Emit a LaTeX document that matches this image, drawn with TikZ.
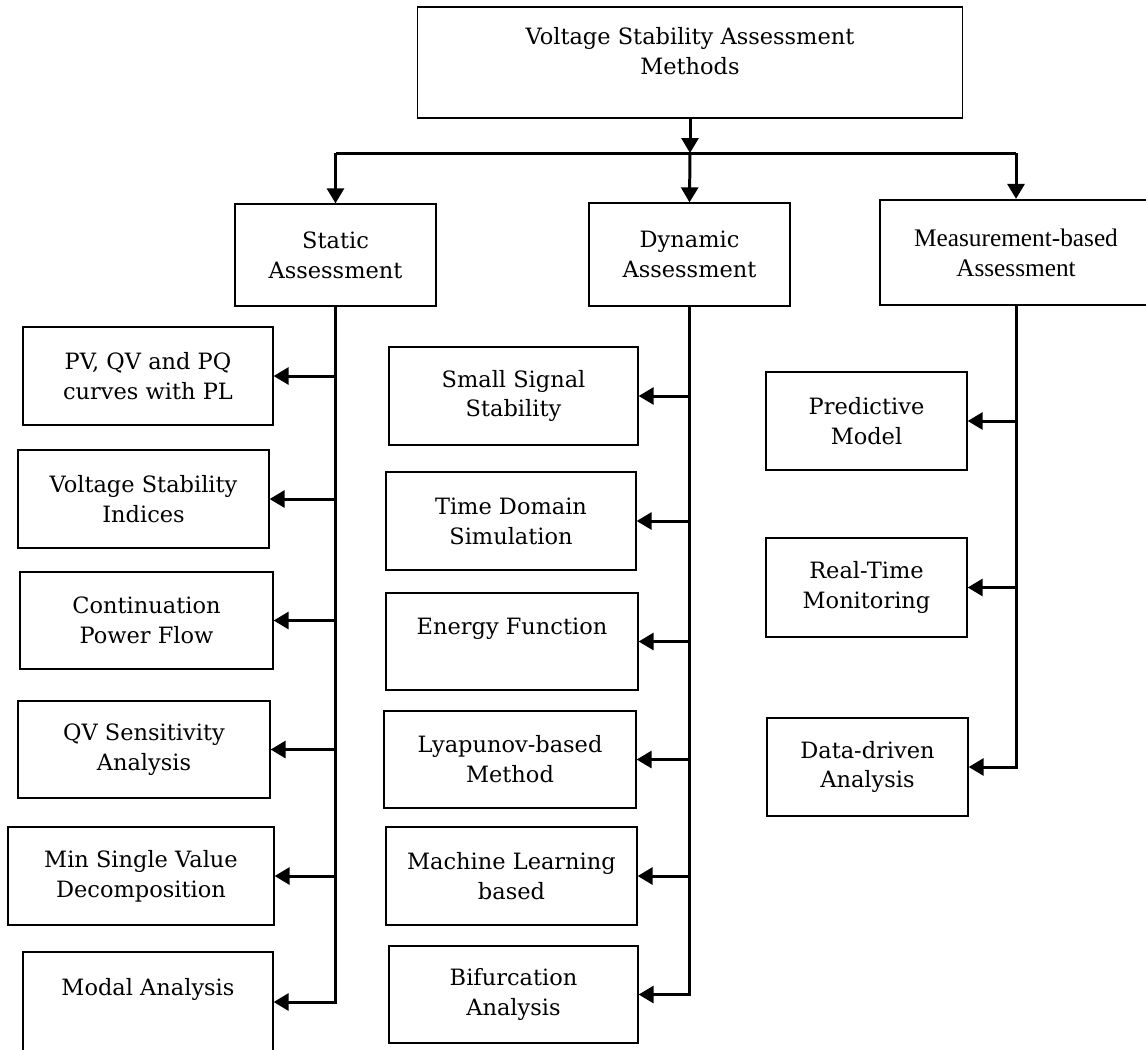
\documentclass[tikz,border=0pt]{standalone}
\usepackage{xcolor}
\usepackage{fontspec}
\setmainfont{DejaVu Serif}
\newfontfamily\timesfont{Liberation Serif}
\usepackage{tikz}
\usetikzlibrary{arrows.meta}
\tikzstyle{method} = [rectangle, draw=black, line width=0.75pt, align=center, inner sep=0pt, minimum width=5cm, minimum height=1.96cm, font=\fontsize{12.8}{17}\selectfont]
\tikzstyle{category} = [method, minimum width=4.02cm, minimum height=2.04cm]
\tikzstyle{trunk} = [line width=1.7pt]
\tikzstyle{arrow} = [trunk, -{Triangle[length=0.3cm,width=0.34cm]}]

\begin{document}
\begin{tikzpicture}[x=0.02cm, y=-0.02cm]
    \clip (0,0) rectangle (1146,1049);

    % Top level
    \node[method, minimum width=10.9cm, minimum height=2.22cm] (root) at (690,62.5) {Voltage Stability Assessment\\Methods\\[-0.15cm]\mbox{}};
    \coordinate (bus) at (690,153);

    % Categories
    \node[category] (static) at (335.5,255) {Static\\Assessment};
    \node[category, minimum height=2.06cm] (dynamic) at (689.5,254.5) {Dynamic\\Assessment};
    \node[category, minimum width=5.44cm, minimum height=2.1cm, line width=1.3pt, font=\timesfont\fontsize{14.4}{17}\selectfont] (measure) at (1016,252.5) {Measurement-based\\Assessment};

    % Static methods
    \node[method] (pv) at (148,376) {PV, QV and PQ\\curves with PL};
    \node[method, minimum width=5.02cm] (vsi) at (143.5,499) {Voltage Stability\\Indices};
    \node[method, minimum width=5.06cm, minimum height=1.94cm] (cpf) at (146.5,620.5) {Continuation\\Power Flow};
    \node[method, minimum width=5.04cm, minimum height=1.94cm] (qvs) at (144,749.5) {QV Sensitivity\\Analysis};
    \node[method, minimum width=5.32cm] (msv) at (141,876) {Min Single Value\\Decomposition};
    \node[method, minimum height=2cm] (modal) at (148,1002) {Modal Analysis\\\mbox{}};

    % Dynamic methods
    \node[method, minimum width=4.98cm] (sss) at (513.5,396) {Small Signal\\Stability};
    \node[method] (tds) at (511,521) {Time Domain\\Simulation};
    \node[method, minimum width=5.04cm, minimum height=1.94cm] (ef) at (512,641.5) {Energy Function\\\mbox{}};
    \node[method, minimum width=5.04cm, minimum height=1.94cm] (lya) at (510,759.5) {Lyapunov-based\\Method};
    \node[method, minimum width=5.02cm] (ml) at (511.5,876) {Machine Learning\\based};
    \node[method, minimum width=4.98cm, minimum height=1.94cm] (bif) at (513.5,994.5) {Bifurcation\\Analysis};

    % Measurement methods
    \node[method, minimum width=4.02cm] (pm) at (866.5,421) {Predictive\\Model};
    \node[method, minimum width=4.02cm, minimum height=1.98cm] (rtm) at (866.5,587.5) {Real-Time\\Monitoring};
    \node[method, minimum width=4.02cm] (dda) at (867.5,767) {Data-driven\\Analysis};

    % Flow
    \draw[arrow] (root) -- (bus);
    \draw[trunk] (static.north |- bus) -- (measure.north |- bus);
    \draw[arrow] (static.north |- bus) -- (static.north);
    \draw[arrow] (bus) -- (dynamic.north);
    \draw[arrow] (measure.north |- bus) -- (measure.north);

    \draw[arrow] (static.south) |- (modal.east);
    \draw[arrow] (static.south |- pv.east) -- (pv.east);
    \draw[arrow] (static.south |- vsi.east) -- (vsi.east);
    \draw[arrow] (static.south |- cpf.east) -- (cpf.east);
    \draw[arrow] (static.south |- qvs.east) -- (qvs.east);
    \draw[arrow] (static.south |- msv.east) -- (msv.east);

    \draw[arrow] (dynamic.south) |- (bif.east);
    \draw[arrow] (dynamic.south |- sss.east) -- (sss.east);
    \draw[arrow] (dynamic.south |- tds.east) -- (tds.east);
    \draw[arrow] (dynamic.south |- ef.east) -- (ef.east);
    \draw[arrow] (dynamic.south |- lya.east) -- (lya.east);
    \draw[arrow] (dynamic.south |- ml.east) -- (ml.east);

    \draw[arrow] (measure.south) |- (dda.east);
    \draw[arrow] (measure.south |- pm.east) -- (pm.east);
    \draw[arrow] (measure.south |- rtm.east) -- (rtm.east);

\end{tikzpicture}
\end{document}
